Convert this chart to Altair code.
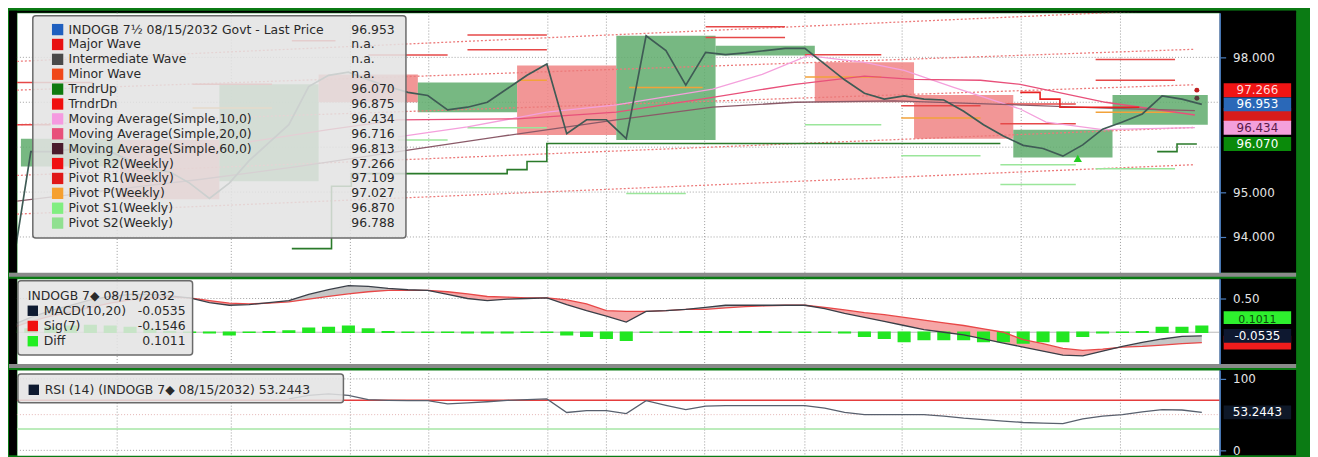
import altair as alt
import pandas as pd

FONT = "DejaVu Sans"

# ---------------- data ----------------
days = list(range(61))
price = [93.10, 95.90, 95.90, 95.95, 95.85, 95.90, 95.70, 95.50, 95.45, 95.20,
         94.86, 95.20, 95.70, 96.10, 96.50, 97.35, 97.60, 97.67, 97.50, 97.35,
         97.22, 97.15, 96.83, 96.89, 97.00, 97.30, 97.60, 97.85, 96.30, 96.61,
         96.61, 96.19, 98.48, 98.15, 97.38, 98.11, 98.06, 98.10, 98.15, 98.20,
         98.20, 97.85, 97.50, 97.20, 97.07, 97.14, 97.07, 97.05, 96.80, 96.50,
         96.25, 96.04, 95.97, 95.80, 96.05, 96.40, 96.56, 96.74, 97.14, 97.07,
         96.953]

macd = [0.10, 0.22, 0.32, 0.40, 0.48, 0.53, 0.56, 0.56, 0.54, 0.51,
        0.44, 0.40, 0.41, 0.44, 0.47, 0.56, 0.63, 0.69, 0.68, 0.65,
        0.63, 0.62, 0.56, 0.50, 0.47, 0.49, 0.50, 0.51, 0.41, 0.32,
        0.24, 0.15, 0.31, 0.32, 0.34, 0.37, 0.40, 0.40, 0.40, 0.40,
        0.40, 0.35, 0.28, 0.22, 0.16, 0.10, 0.04, 0.00, -0.04, -0.10,
        -0.16, -0.22, -0.28, -0.34, -0.35, -0.28, -0.21, -0.15, -0.10, -0.06,
        -0.0535]
signal = [0.06, 0.16, 0.24, 0.30, 0.37, 0.43, 0.48, 0.51, 0.52, 0.51,
          0.47, 0.43, 0.42, 0.43, 0.45, 0.49, 0.53, 0.57, 0.60, 0.62,
          0.62, 0.62, 0.60, 0.57, 0.53, 0.52, 0.51, 0.51, 0.48, 0.42,
          0.32, 0.31, 0.31, 0.32, 0.34, 0.34, 0.36, 0.38, 0.39, 0.40,
          0.40, 0.37, 0.33, 0.29, 0.26, 0.22, 0.18, 0.14, 0.10, 0.05,
          0.00, -0.11, -0.17, -0.24, -0.27, -0.25, -0.22, -0.21, -0.19, -0.17,
          -0.1546]
diff = [0.04, 0.06, 0.08, 0.10, 0.11, 0.10, 0.08, 0.05, 0.02, 0.00,
        -0.02, -0.05, -0.01, 0.02, 0.03, 0.07, 0.08, 0.10, 0.06, 0.02,
        0.01, 0.00, -0.01, -0.02, -0.02, -0.02, -0.01, 0.00, -0.05, -0.07,
        -0.10, -0.13, 0.00, 0.01, 0.02, 0.02, 0.02, 0.02, 0.02, 0.01,
        0.01, 0.00, -0.02, -0.07, -0.10, -0.15, -0.12, -0.12, -0.12, -0.15,
        -0.15, -0.17, -0.15, -0.15, -0.07, -0.02, 0.00, 0.02, 0.08, 0.08,
        0.1011]

rsi_days = list(range(14, 61))
rsi = [72, 77, 79, 77, 71, 70, 69.5, 69.5, 65, 66.5,
       68, 70, 71, 72, 53, 55.5, 55.5, 51.5, 69.5, 63,
       57, 62, 62.5, 62.5, 62.5, 62.5, 62.5, 59, 53, 50,
       50, 50, 50, 48, 45, 43, 41, 39, 38, 37.5,
       44, 48, 50, 54, 57, 56.5, 53.2443]

# weekly boxes
box_start = [0.5, 5.5, 10.5, 15.5, 20.5, 25.5, 30.5, 35.5, 40.5, 45.5, 50.5, 55.5]
box_end = [5.5, 10.5, 15.5, 20.5, 25.5, 30.5, 35.5, 40.5, 45.5, 50.5, 55.5, 60.3]
box_low = [95.57, 94.84, 95.24, 97.00, 96.78, 96.27, 96.16, 98.04, 97.00, 96.19, 95.77, 96.50]
box_high = [96.19, 96.16, 97.40, 97.62, 97.44, 97.82, 98.48, 98.26, 97.89, 97.16, 96.39, 97.16]
box_dir = ["up", "down", "up", "down", "up", "down", "up", "up", "down", "down", "up", "up"]

# weekly pivot / wave segments
seg_start = [0.3, 0.3, 14.15, 18, 23, 23, 35, 35, 40, 44.85, 49.85, 49.85, 54.65, 54.65, 9.15,
             31.15, 25.65, 40, 44.85, 54.65, 9.15,
             31, 40, 44.85, 49.85, 49.85, 54.65, 19.5, 23]
seg_end = [4.15, 2.0, 16.35, 22, 27, 27, 39, 39, 43.85, 48.85, 53.65, 53.65, 58.65, 58.65, 13.15,
           34.85, 27, 43.85, 48.85, 58.65, 13.15,
           34, 43.85, 48.85, 53.65, 53.65, 58.65, 22, 27]
seg_value = [97.44, 96.50, 98.37, 98.05, 98.50, 98.17, 98.68, 98.44, 98.06, 96.92, 96.96, 96.52, 97.95, 97.49, 97.40,
             97.33, 97.49, 97.56, 96.65, 96.78, 96.87,
             94.97, 96.50, 95.81, 95.61, 95.17, 95.52, 96.16, 96.43]
seg_kind = ["R"] * 15 + ["P"] * 6 + ["S"] * 8

# dotted trend channel lines
diag_k0 = [0.3, 0.3, 0.3, 0.3, 0.3]
diag_v0 = [97.91, 97.27, 96.50, 95.37, 94.51]
diag_k1 = [59.65, 59.65, 59.65, 59.65, 59.65]
diag_v1 = [99.08, 98.18, 97.39, 96.44, 95.61]

# moving averages
ma10_k = [19.5, 23, 27, 30.5, 35.35, 37.85, 40.15, 43, 45, 47.5, 50.85, 52.15, 55, 59.65]
ma10_v = [96.23, 96.45, 96.78, 96.94, 97.29, 97.62, 98.04, 97.89, 97.71, 97.33, 96.85, 96.56, 96.39, 96.434]
ma20_k = [12, 16, 19.5, 25.5, 30.5, 35.35, 39.5, 43, 45.5, 48.85, 50.85, 55.15, 59.65]
ma20_v = [96.12, 96.39, 96.61, 96.63, 96.78, 97.11, 97.40, 97.58, 97.51, 97.49, 97.40, 97.00, 96.716]
ma60_k = [0.3, 4.5, 9.5, 14.5, 19.5, 24.5, 30.5, 35.35, 39.5, 44.5, 49.5, 55.15, 59.65]
ma60_v = [94.80, 95.02, 95.28, 95.57, 95.90, 96.23, 96.61, 96.89, 97.00, 97.03, 96.96, 96.87, 96.813]

# trender lines
tup_k = [14.15, 16.15, 17.15, 25, 26, 27, 49.85, 57.75, 58.75, 59.75]
tup_v = [93.74, 95.13, 95.41, 95.50, 95.68, 96.08, 96.08, 95.90, 96.07, 96.07]
tup_seg = [1, 1, 1, 1, 1, 1, 1, 2, 2, 2]
tdn_k = [50.85, 51.85, 52.85, 56.85]
tdn_v = [97.22, 97.07, 96.89, 96.89]

grid_k = [5.35, 11.1, 17.1, 21.05, 27.05, 30, 34.95, 40, 44.9, 50.9, 55.9]
main_grid = [94, 95, 96, 97, 98]

# legend
leg_labels = ["INDOGB 7½  08/15/2032 Govt - Last Price", "Major Wave", "Intermediate Wave",
              "Minor Wave", "TrndrUp", "TrndrDn", "Moving Average(Simple,10,0)",
              "Moving Average(Simple,20,0)", "Moving Average(Simple,60,0)", "Pivot R2(Weekly)",
              "Pivot R1(Weekly)", "Pivot P(Weekly)", "Pivot S1(Weekly)", "Pivot S2(Weekly)"]
leg_values = ["96.953", "n.a.", "n.a.", "n.a.", "96.070", "96.875", "96.434", "96.716",
              "96.813", "97.266", "97.109", "97.027", "96.870", "96.788"]
leg_colors = ["#1f5fbf", "#e81010", "#4a4a4a", "#f04818", "#0f7a0f", "#f01010", "#f59ae0",
              "#e8507a", "#4a1c2c", "#f01010", "#e01818", "#f5a030", "#80ee80", "#90e090"]

macd_leg_labels = ["MACD(10,20)", "Sig(7)", "Diff"]
macd_leg_values = ["-0.0535", "-0.1546", "0.1011"]
macd_leg_colors = ["#0e1a30", "#f01010", "#22ee22"]

main_tag_v = [96.716, 97.266, 96.434, 96.070, 96.953]
main_tag_txt = ["", "97.266", "96.434", "96.070", "96.953"]
main_tag_fill = ["#d81c1c", "#f01414", "#f4a0dc", "#0a8a0a", "#2a68b8"]
main_tag_tc = ["#ffffff", "#ffd8d8", "#5a1a4a", "#ffffff", "#ffffff"]

macd_sig_last = -0.1546
macd_diff_last = 0.1011
macd_last = -0.0535
rsi_last = 53.2443

# ---------------- styles ----------------
BOX_COL = {"up": "#5fac6c", "down": "#f08484"}
SEG_COL = {"R": "#e64848", "P": "#f2a23a", "S": "#9be69b"}
MA_COL = {"MA10": "#f4a0dc", "MA20": "#e8507a", "MA60": "#8a5a68"}

# ---------------- tables ----------------
W = 1212
H1, H2, H3 = 262, 86, 86
AX = 77

one = pd.DataFrame({"o": [0]})
px = pd.DataFrame({"k": days, "v": price})
ind = pd.DataFrame({"k": days, "m": macd, "s": signal, "d": diff})
rs = pd.DataFrame({"k": rsi_days, "r": rsi})
boxes = pd.DataFrame({"k0": box_start, "k1": box_end, "lo": box_low, "hi": box_high, "dir": box_dir})
boxes["c"] = boxes["dir"].map(BOX_COL)
segs = pd.DataFrame({"k0": seg_start, "k1": seg_end, "v": seg_value, "kind": seg_kind})
segs["c"] = segs["kind"].map(SEG_COL)
diags = pd.DataFrame({"k0": diag_k0, "v0": diag_v0, "k1": diag_k1, "v1": diag_v1})
ma = pd.concat([
    pd.DataFrame({"k": ma10_k, "v": ma10_v, "ma": "MA10"}),
    pd.DataFrame({"k": ma20_k, "v": ma20_v, "ma": "MA20"}),
    pd.DataFrame({"k": ma60_k, "v": ma60_v, "ma": "MA60"}),
])
ma["c"] = ma["ma"].map(MA_COL)
tup = pd.DataFrame({"k": tup_k, "v": tup_v, "g": tup_seg})
tdn = pd.DataFrame({"k": tdn_k, "v": tdn_v})
gridk = pd.DataFrame({"k": grid_k})
gridv = pd.DataFrame({"v": main_grid})
leg = pd.DataFrame({"row": list(range(len(leg_labels))), "label": leg_labels,
                    "val": leg_values, "color": leg_colors})
mleg = pd.DataFrame({"row": [1, 2, 3], "label": macd_leg_labels,
                     "val": macd_leg_values, "color": macd_leg_colors})
markers = pd.DataFrame({"k": [59.75, 59.75], "v": [97.27, 97.09], "c": ["#c02020", "#5a3a3a"]})
tri = pd.DataFrame({"k": [53.75], "v": [95.75]})

# ---------------- scales / helpers ----------------
XS = alt.Scale(domain=[0.3, 60.9], nice=False, zero=False)
YS1 = alt.Scale(domain=[93.204, 98.994], nice=False, zero=False)
YS2 = alt.Scale(domain=[-0.471, 0.794], nice=False, zero=False)
YS3 = alt.Scale(domain=[-6.94, 112.5], nice=False, zero=False)


def X(f):
    return alt.X(f, type="quantitative", scale=XS, axis=None)


def Yq(f, sc, axis=None):
    if axis is None:
        return alt.Y(f, type="quantitative", scale=sc, axis=None)
    return alt.Y(f, type="quantitative", scale=sc, axis=axis)


def C(f):
    return alt.Color(f, type="nominal", scale=None)


def right_axis(values, fmt):
    return alt.Axis(orient="right", values=values, format=fmt, title=None, grid=False,
                    labelColor="#e4e4e4", labelFont=FONT, labelFontSize=12, labelPadding=7,
                    tickColor="#4d7fc0", tickSize=6, tickWidth=1.2,
                    domainColor="#4d7fc0", domainWidth=1.5, zindex=1)


def frame(H, top_strip):
    y0 = -2 if top_strip else 0
    lay = [
        alt.Chart(one).mark_rect(color="#000000").encode(
            x=alt.value(W), x2=alt.value(W + AX), y=alt.value(y0), y2=alt.value(H)),
        alt.Chart(one).mark_rect(color="#000000").encode(
            x=alt.value(-8), x2=alt.value(0), y=alt.value(y0), y2=alt.value(H)),
    ]
    if top_strip:
        lay.append(alt.Chart(one).mark_rect(color="#000000").encode(
            x=alt.value(-8), x2=alt.value(W + AX), y=alt.value(-2), y2=alt.value(0)))
    return lay


def separator(H):
    return alt.Chart(one).mark_rect(color="#8a8a8a").encode(
        x=alt.value(-8), x2=alt.value(W + AX), y=alt.value(H), y2=alt.value(H + 4))


def vgrid(H):
    return alt.Chart(gridk).mark_rule(color="#9a9a9a", strokeDash=[1, 2], strokeWidth=1).encode(
        x=X("k"), y=alt.value(0), y2=alt.value(H))


def tag(value, sc, below, above, fill, text="", tc="#ffffff", dy=0, size=12):
    d = pd.DataFrame({"v": [value]})
    base = alt.Chart(d).transform_calculate(lo=f"datum.v - {below}", hi=f"datum.v + {above}")
    lay = [base.mark_rect(color=fill).encode(
        x=alt.value(W + 4), x2=alt.value(W + 72), y=Yq("lo:Q", sc), y2="hi:Q")]
    if text:
        lay.append(alt.Chart(d).mark_text(font=FONT, fontSize=size, align="center", baseline="middle",
                                          color=tc, dy=dy, text=text).encode(
            x=alt.value(W + 38), y=Yq("v:Q", sc)))
    return lay


# ---------------- main panel ----------------
hgrid = alt.Chart(gridv).mark_rule(color="#a0a0a0", strokeDash=[1, 2]).encode(
    y=Yq("v:Q", YS1), x=alt.value(0), x2=alt.value(W))
box_layer = alt.Chart(boxes).mark_rect(opacity=0.85).encode(
    x=X("k0:Q"), x2="k1:Q", y=Yq("lo:Q", YS1), y2="hi:Q", color=C("c"))
diag_layer = alt.Chart(diags).mark_rule(color="#ec7a7a", strokeDash=[2, 2], strokeWidth=1.3, clip=True).encode(
    x=X("k0:Q"), x2="k1:Q", y=Yq("v0:Q", YS1), y2="v1:Q")
seg_layer = alt.Chart(segs).mark_rule(strokeWidth=1.5, clip=True).encode(
    x=X("k0:Q"), x2="k1:Q", y=Yq("v:Q", YS1), color=C("c"))
ma_layer = alt.Chart(ma).mark_line(strokeWidth=1.3, clip=True).encode(
    x=X("k:Q"), y=Yq("v:Q", YS1), detail="ma:N", color=C("c"))
tup_layer = alt.Chart(tup).mark_line(color="#2a7a2a", strokeWidth=1.6, interpolate="step-after", clip=True).encode(
    x=X("k:Q"), y=Yq("v:Q", YS1), detail="g:N")
tdn_layer = alt.Chart(tdn).mark_line(color="#e82020", strokeWidth=1.6, interpolate="step-after", clip=True).encode(
    x=X("k:Q"), y=Yq("v:Q", YS1))
price_layer = alt.Chart(px).mark_line(color="#3f5b55", strokeWidth=1.7, clip=True).encode(
    x=X("k:Q"), y=Yq("v:Q", YS1, right_axis([94, 95, 98], ".3f")))
tri_layer = alt.Chart(tri).mark_point(shape="triangle-up", filled=True, size=70, color="#22cc22", opacity=1).encode(
    x=X("k:Q"), y=Yq("v:Q", YS1))
dot_layer = alt.Chart(markers).mark_circle(size=25, opacity=1).encode(
    x=X("k:Q"), y=Yq("v:Q", YS1), color=C("c"))

RS1 = alt.Scale(domain=[0, 13], range=[17, 212], nice=False, zero=False)
leg_box = alt.Chart(one).mark_rect(fill="#e3e3e3", fillOpacity=0.86, stroke="#6a6a6a", strokeWidth=1.5, cornerRadius=3).encode(
    x=alt.value(16), x2=alt.value(392), y=alt.value(3), y2=alt.value(227))
leg_sq = alt.Chart(leg).mark_square(size=130, opacity=1).encode(
    x=alt.value(41), y=Yq("row:Q", RS1), color=C("color"))
leg_txt = alt.Chart(leg).mark_text(font=FONT, fontSize=12.5, align="left", baseline="middle", color="#2a2a2a").encode(
    x=alt.value(52), y=Yq("row:Q", RS1), text="label:N")
leg_val = alt.Chart(leg).mark_text(font=FONT, fontSize=12.5, align="left", baseline="middle", color="#2a2a2a").encode(
    x=alt.value(337), y=Yq("row:Q", RS1), text="val:N")

main_tags = []
for v, t, f, tc in zip(main_tag_v, main_tag_txt, main_tag_fill, main_tag_tc):
    main_tags += tag(v, YS1, 0.155, 0.155, f, t, tc)

main = alt.layer(
    *frame(H1, True), separator(H1), hgrid, vgrid(H1), box_layer, diag_layer, seg_layer, ma_layer,
    tup_layer, tdn_layer, price_layer, tri_layer, dot_layer,
    leg_box, leg_sq, leg_txt, leg_val, *main_tags
).resolve_scale(y="independent").properties(width=W, height=H1)

# ---------------- MACD panel ----------------
m_h = alt.Chart(pd.DataFrame({"v": [0.5]})).mark_rule(color="#a0a0a0", strokeDash=[1, 2]).encode(
    y=Yq("v:Q", YS2, right_axis([0.5], ".2f")), x=alt.value(0), x2=alt.value(W))
m_zero = alt.Chart(pd.DataFrame({"v": [0.0]})).mark_rule(color="#b8b8b8", strokeWidth=1).encode(
    y=Yq("v:Q", YS2), x=alt.value(0), x2=alt.value(W))
m_gray = alt.Chart(ind).transform_calculate(hi="max(datum.m, datum.s)").mark_area(color="#c6c6c6", clip=True).encode(
    x=X("k:Q"), y=Yq("hi:Q", YS2), y2="s:Q")
m_pink = alt.Chart(ind).transform_calculate(lo="min(datum.m, datum.s)").mark_area(color="#f6a6a6", clip=True).encode(
    x=X("k:Q"), y=Yq("s:Q", YS2), y2="lo:Q")
m_bars = alt.Chart(ind).transform_calculate(
    k0="datum.k - 0.33", k1="datum.k + 0.33",
    top="max(datum.d, 0.012)", bot="min(datum.d, -0.012)"
).mark_rect(color="#22e622", clip=True).encode(x=X("k0:Q"), x2="k1:Q", y=Yq("top:Q", YS2), y2="bot:Q")
m_sig = alt.Chart(ind).mark_line(color="#e84848", strokeWidth=1.3, clip=True).encode(x=X("k:Q"), y=Yq("s:Q", YS2))
m_line = alt.Chart(ind).mark_line(color="#3a3f48", strokeWidth=1.3, clip=True).encode(x=X("k:Q"), y=Yq("m:Q", YS2))

RS2 = alt.Scale(domain=[0, 3], range=[17, 63], nice=False, zero=False)
m_box = alt.Chart(one).mark_rect(fill="#e3e3e3", fillOpacity=0.86, stroke="#6a6a6a", strokeWidth=1.5, cornerRadius=3).encode(
    x=alt.value(1), x2=alt.value(177), y=alt.value(2), y2=alt.value(77))
m_head = alt.Chart(one).mark_text(font=FONT, fontSize=12.5, align="left", baseline="middle", color="#2a2a2a",
                                  text="INDOGB 7◆ 08/15/2032").encode(x=alt.value(11), y=alt.value(17))
m_sq = alt.Chart(mleg).mark_square(size=110, opacity=1).encode(
    x=alt.value(16), y=Yq("row:Q", RS2), color=C("color"))
m_txt = alt.Chart(mleg).mark_text(font=FONT, fontSize=12.5, align="left", baseline="middle", color="#2a2a2a").encode(
    x=alt.value(27), y=Yq("row:Q", RS2), text="label:N")
m_val = alt.Chart(mleg).mark_text(font=FONT, fontSize=12.5, align="right", baseline="middle", color="#2a2a2a").encode(
    x=alt.value(170), y=Yq("row:Q", RS2), text="val:N")

macd_tags = (tag(macd_sig_last, YS2, 0.103, 0.103, "#ee1c1c")
             + tag(macd_diff_last, YS2, -0.02, 0.21, "#2ef02e", "0.1011", "#0a4a0a", dy=-5, size=11)
             + tag(macd_last, YS2, 0.103, 0.103, "#0e1830", "-0.0535", "#ffffff"))

macd_panel = alt.layer(
    *frame(H2, False), separator(H2), vgrid(H2), m_h, m_zero, m_gray, m_pink, m_bars, m_sig, m_line,
    m_box, m_head, m_sq, m_txt, m_val, *macd_tags
).resolve_scale(y="independent").properties(width=W, height=H2)

# ---------------- RSI panel ----------------
r_dot = alt.Chart(pd.DataFrame({"v": [0, 100]})).mark_rule(color="#a0a0a0", strokeDash=[1, 2]).encode(
    y=Yq("v:Q", YS3, right_axis([0, 100], "d")), x=alt.value(0), x2=alt.value(W))
r_mid = alt.Chart(pd.DataFrame({"v": [50]})).mark_rule(color="#e4b4b4", strokeDash=[1, 2]).encode(
    y=Yq("v:Q", YS3), x=alt.value(0), x2=alt.value(W))
r_hi = alt.Chart(pd.DataFrame({"v": [70]})).mark_rule(color="#e43c3c", strokeWidth=1.5).encode(
    y=Yq("v:Q", YS3), x=alt.value(0), x2=alt.value(W))
r_lo = alt.Chart(pd.DataFrame({"v": [30]})).mark_rule(color="#a6e6a6", strokeWidth=1.5).encode(
    y=Yq("v:Q", YS3), x=alt.value(0), x2=alt.value(W))
r_line = alt.Chart(rs).mark_line(color="#59606e", strokeWidth=1.3, clip=True).encode(x=X("k:Q"), y=Yq("r:Q", YS3))
r_box = alt.Chart(one).mark_rect(fill="#e3e3e3", fillOpacity=0.86, stroke="#6a6a6a", strokeWidth=1.5, cornerRadius=3).encode(
    x=alt.value(1), x2=alt.value(329), y=alt.value(4), y2=alt.value(33))
r_sq = alt.Chart(one).mark_square(size=110, opacity=1, color="#0e1a30").encode(x=alt.value(17), y=alt.value(20))
r_txt = alt.Chart(one).mark_text(font=FONT, fontSize=12.5, align="left", baseline="middle", color="#2a2a2a",
                                 text="RSI (14) (INDOGB 7◆ 08/15/2032) 53.2443").encode(x=alt.value(28), y=alt.value(20))

rsi_panel = alt.layer(
    *frame(H3, False), vgrid(H3), r_dot, r_mid, r_hi, r_lo, r_line, r_box, r_sq, r_txt,
    *tag(rsi_last, YS3, 9.7, 9.7, "#0e1828", "53.2443", "#ffffff")
).resolve_scale(y="independent").properties(width=W, height=H3)

chart = alt.vconcat(main, macd_panel, rsi_panel, spacing=0).properties(
    background="#0b7b14",
    padding={"left": 0, "top": 0, "right": 13, "bottom": 5},
).configure_view(fill="white", stroke="transparent")

chart.save("out.html", embed_options={"renderer": "svg", "actions": False})
